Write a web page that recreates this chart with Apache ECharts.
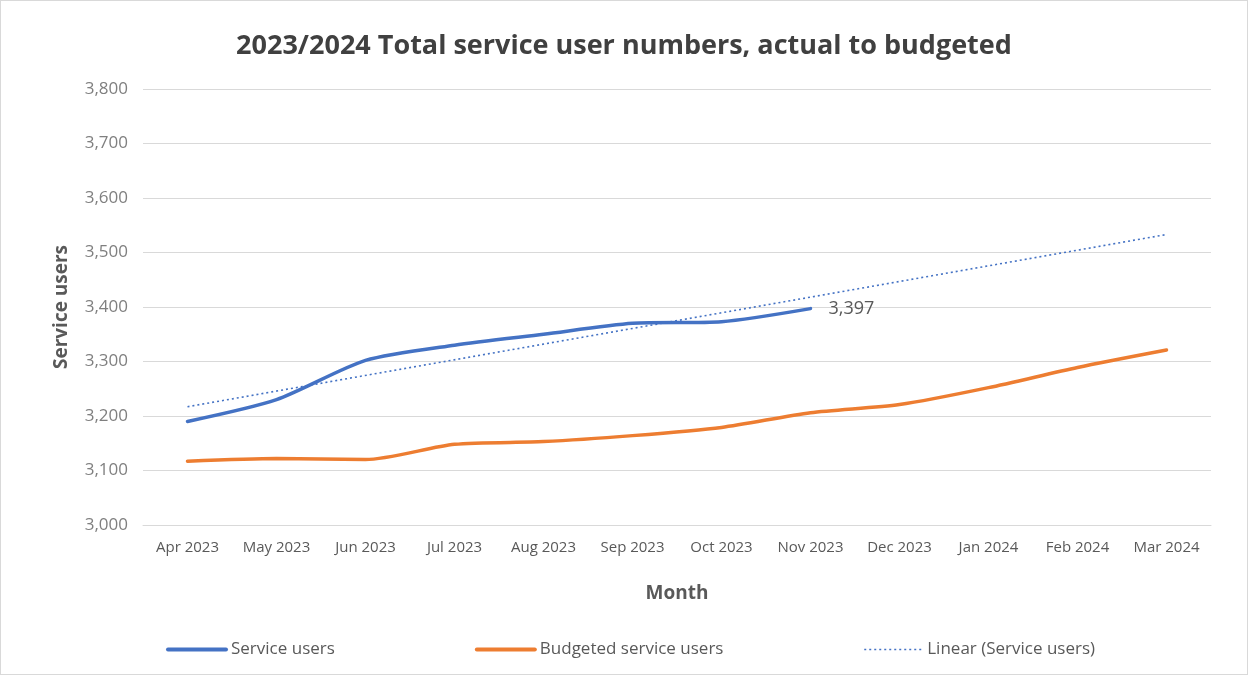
<!DOCTYPE html>
<html>
<head>
<meta charset="utf-8">
<script src="https://cdn.jsdelivr.net/npm/echarts@6/dist/echarts.min.js"></script>
<style>
  html, body { margin: 0; padding: 0; background: #fff; }
  #chart { width: 1248px; height: 675px; box-sizing: border-box; border: 1px solid #d9d9d9; }
</style>
</head>
<body>
<div id="chart"></div>
<script>
// Months of the 2023/2024 financial year
const months = ['Apr 2023', 'May 2023', 'Jun 2023', 'Jul 2023', 'Aug 2023', 'Sep 2023',
                'Oct 2023', 'Nov 2023', 'Dec 2023', 'Jan 2024', 'Feb 2024', 'Mar 2024'];

// Actual service users (recorded to Nov 2023)
const serviceUsers = [3190, 3230, 3302, 3330, 3350, 3370, 3373, 3397];

// Budgeted service users for the full year
const budgetedUsers = [3117, 3122, 3120, 3148, 3153, 3164, 3179, 3206, 3221, 3252, 3289, 3321];

// Linear trend of actual service users, start (Apr 2023) and end (Mar 2024)
const trendStart = 3217;
const trendEnd = 3533;

const FONT = '"Open Sans", Lato, sans-serif';

const trendData = months.map((m, i) => i === 0 ? trendStart : (i === months.length - 1 ? trendEnd : null));

const chart = echarts.init(document.getElementById('chart'), null, { renderer: 'canvas' });
chart.setOption({
  animation: false,
  textStyle: { fontFamily: FONT },
  title: {
    text: '2023/2024 Total service user numbers, actual to budgeted',
    left: 'center',
    top: 27,
    textStyle: { fontFamily: FONT, fontSize: 27, fontWeight: 'bold', color: '#404040' }
  },
  grid: { left: 142, right: 36, top: 88, bottom: 149 },
  xAxis: {
    type: 'category',
    data: months,
    boundaryGap: true,
    name: 'Month',
    nameLocation: 'middle',
    nameGap: 59,
    nameTextStyle: { fontFamily: FONT, fontSize: 19, fontWeight: 'bold', color: '#595959' },
    axisLine: { lineStyle: { color: '#d9d9d9', width: 1 } },
    axisTick: { show: false },
    axisLabel: { color: '#595959', fontSize: 15, margin: 15, interval: 0 }
  },
  yAxis: {
    type: 'value',
    min: 3000,
    max: 3800,
    interval: 100,
    name: 'Service users',
    nameLocation: 'middle',
    nameGap: 72,
    nameTextStyle: { fontFamily: FONT, fontSize: 19, fontWeight: 'bold', color: '#595959' },
    axisLine: { show: false },
    axisTick: { show: false },
    axisLabel: {
      color: '#7f7f7f', fontSize: 17, margin: 15,
      formatter: v => v.toLocaleString('en-GB')
    },
    splitLine: { lineStyle: { color: '#d9d9d9', width: 1 } }
  },
  legend: {
    bottom: 11,
    left: 160,
    itemGap: 140,
    itemWidth: 58,
    itemHeight: 14,
    itemStyle: { opacity: 0 },
    textStyle: { fontFamily: FONT, fontSize: 17, color: '#595959' },
    data: [
      { name: 'Service users', lineStyle: { width: 4 } },
      { name: 'Budgeted service users', lineStyle: { width: 4 } },
      { name: 'Linear (Service users)', lineStyle: { width: 1.6 } }
    ]
  },
  series: [
    {
      name: 'Service users',
      type: 'line',
      data: serviceUsers,
      symbol: 'none',
      lineStyle: { color: '#4472C4', width: 3.5, cap: 'round' },
      itemStyle: { color: '#4472C4' },
      smooth: 0.25,
      endLabel: {
        show: true,
        formatter: p => Number(p.value).toLocaleString('en-GB'),
        color: '#595959',
        fontSize: 18,
        distance: 18
      },
      z: 3
    },
    {
      name: 'Budgeted service users',
      type: 'line',
      data: budgetedUsers,
      symbol: 'none',
      lineStyle: { color: '#ED7D31', width: 3.5, cap: 'round' },
      itemStyle: { color: '#ED7D31' },
      smooth: 0.25,
      z: 2
    },
    {
      name: 'Linear (Service users)',
      type: 'line',
      data: trendData,
      connectNulls: true,
      symbol: 'none',
      lineStyle: { color: '#4472C4', width: 1.6, type: [2, 3] },
      itemStyle: { color: '#4472C4' },
      z: 4
    }
  ]
});
</script>
</body>
</html>
